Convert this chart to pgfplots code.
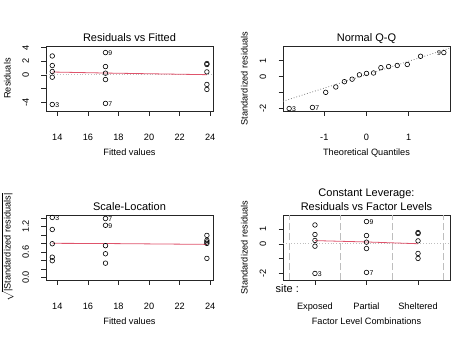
\documentclass[border=0pt]{standalone}
\usepackage{fontspec}
\setmainfont{Liberation Sans}
\usepackage{pgfplots}
\pgfplotsset{compat=1.18}
\definecolor{rred}{HTML}{DF536B}
\definecolor{rgray}{HTML}{BEBEBE}
\definecolor{rgrayd}{HTML}{7F7F7F}
\tikzset{
  idl/.style={font=\fontsize{6.9}{8}\selectfont, inner sep=0pt, anchor=west, xshift=2.8pt, yshift=-0.6pt},
  idr/.style={font=\fontsize{6.9}{8}\selectfont, inner sep=0pt, anchor=east, xshift=-2.8pt, yshift=-0.6pt},
}
\pgfplotsset{
  rplot/.style={
    scale only axis, width=167pt, height=65pt, clip=false,
    axis line style={black!85, line width=0.6pt},
    every tick/.style={black!85, line width=0.6pt},
    tick align=outside, major tick length=4.5pt, tick pos=left,
    title style={font=\fontsize{11}{13}\selectfont, at={(axis description cs:0.5,1.074)}, anchor=base, yshift=-6pt, inner sep=0pt},
    tick label style={font=\fontsize{9.2}{11}\selectfont, inner sep=0pt},
    xticklabel style={anchor=base}, xticklabel shift=24.5pt,
    yticklabel style={rotate=90, anchor=base}, yticklabel shift=12.5pt,
    label style={font=\fontsize{9.2}{11}\selectfont, inner sep=0pt},
    xlabel style={at={(axis description cs:0.5,-0.677)}, anchor=base},
    ylabel style={at={(axis description cs:-0.212,0.5)}, anchor=base},
  },
  pts/.style={only marks, mark=o, black, mark size=2.3pt, mark options={line width=0.6pt}},
  rsmooth/.style={rred, line width=0.8pt, no marks},
  zline/.style={rgray, dotted, line width=0.8pt, no marks},
  vline/.style={rgray, dash pattern=on 7pt off 3pt, line width=0.8pt, no marks},
}
\begin{document}
\begin{tikzpicture}
\path[use as bounding box] (0,0) rectangle (474pt,-338pt);

% Panel 1: Residuals vs Fitted
\begin{axis}[rplot, at={(46pt,-111pt)}, anchor=south west,
  xmin=13.26, xmax=24.18, ymin=-5.29, ymax=4.23,
  xtick={14,16,18,20,22,24}, xticklabels={14,16,18,20,22,24},
  ytick={-4,-2,0,2,4}, yticklabels={-4,,0,2,4},
  title={Residuals vs Fitted}, xlabel={Fitted values}, ylabel={Residuals}]
\addplot[zline] coordinates {(13.26,0) (24.18,0)};
\addplot[rsmooth] coordinates {(13.67,0.42) (17.15,0.27) (23.78,0.03)};
\addplot[pts] coordinates {
(13.67,2.77) (13.67,1.37) (13.67,0.50) (13.67,-0.34) (13.67,-4.33)
(17.15,3.27) (17.15,1.22) (17.15,0.25) (17.15,-0.68) (17.15,-4.18)
(23.78,1.66) (23.78,1.52) (23.78,0.44) (23.78,-1.40) (23.78,-2.13)};
\node[idl] at (axis cs:13.67,-4.33) {3};
\node[idl] at (axis cs:17.15,-4.18) {7};
\node[idl] at (axis cs:17.15,3.27) {9};
\end{axis}

% Panel 2: Normal Q-Q
\begin{axis}[rplot, at={(283pt,-111pt)}, anchor=south west,
  xmin=-1.98, xmax=1.98, ymin=-2.15, ymax=1.92,
  xtick={-1,0,1}, xticklabels={-1,0,1},
  ytick={-2,-1,0,1}, yticklabels={-2,,0,1},
  title={Normal Q-Q}, xlabel={Theoretical Quantiles}, ylabel={Standardized residuals}]
\addplot[rgrayd, dotted, line width=0.8pt, no marks] coordinates {(-1.98,-1.54) (1.98,1.79)};
\addplot[pts] coordinates {
(-1.834,-1.996) (-1.282,-1.927) (-0.967,-0.982) (-0.728,-0.645) (-0.524,-0.313)
(-0.341,-0.157) (-0.168,0.115) (0,0.203) (0.168,0.231) (0.341,0.562)
(0.524,0.632) (0.728,0.701) (0.967,0.765) (1.282,1.277) (1.834,1.508)};
\node[idl] at (axis cs:-1.834,-1.996) {3};
\node[idl] at (axis cs:-1.282,-1.927) {7};
\node[idr] at (axis cs:1.834,1.508) {9};
\end{axis}

% Panel 3: Scale-Location
\begin{axis}[rplot, at={(46pt,-280pt)}, anchor=south west,
  xmin=13.26, xmax=24.18, ymin=-0.057, ymax=1.47,
  xtick={14,16,18,20,22,24}, xticklabels={14,16,18,20,22,24},
  ytick={0,0.2,0.4,0.6,0.8,1.0,1.2,1.4}, yticklabels={0.0,,,0.6,,,1.2,},
  title={Scale-Location}, xlabel={Fitted values},
  ylabel={$\sqrt{\mbox{|Standardized residuals|}}$}]
\addplot[rsmooth] coordinates {(13.67,0.805) (17.15,0.80) (23.78,0.78)};
\addplot[pts] coordinates {
(13.67,1.130) (13.67,0.795) (13.67,0.480) (13.67,0.396) (13.67,1.413)
(17.15,1.228) (17.15,0.750) (17.15,0.339) (17.15,0.560) (17.15,1.388)
(23.78,0.875) (23.78,0.837) (23.78,0.451) (23.78,0.803) (23.78,0.991)};
\node[idl] at (axis cs:13.67,1.413) {3};
\node[idl] at (axis cs:17.15,1.388) {7};
\node[idl] at (axis cs:17.15,1.228) {9};
\end{axis}

% Panel 4: Constant Leverage
\begin{axis}[rplot, at={(283pt,-280pt)}, anchor=south west,
  xmin=0.38, xmax=3.62, ymin=-2.44, ymax=1.95,
  xtick={1,2,3}, xticklabels={Exposed,Partial,Sheltered},
  ytick={-2,-1,0,1}, yticklabels={-2,,0,1},
  title={Residuals vs Factor Levels}, xlabel={Factor Level Combinations},
  ylabel={Standardized residuals}]
\addplot[vline] coordinates {(0.5,-2.44) (0.5,1.95)};
\addplot[vline] coordinates {(1.5,-2.44) (1.5,1.95)};
\addplot[vline] coordinates {(2.5,-2.44) (2.5,1.95)};
\addplot[vline] coordinates {(3.5,-2.44) (3.5,1.95)};
\addplot[zline] coordinates {(0.38,0) (3.62,0)};
\addplot[rsmooth] coordinates {(1,0.22) (2,0.13) (3,0.01)};
\addplot[pts] coordinates {
(1,1.277) (1,0.632) (1,0.231) (1,-0.157) (1,-1.996)
(2,1.508) (2,0.562) (2,0.115) (2,-0.313) (2,-1.927)
(3,0.765) (3,0.701) (3,0.203) (3,-0.645) (3,-0.982)};
\node[idl] at (axis cs:1,-1.996) {3};
\node[idl] at (axis cs:2,-1.927) {7};
\node[idl] at (axis cs:2,1.508) {9};
\node[font=\fontsize{11}{13}\selectfont, anchor=base, inner sep=0pt] at (axis description cs:0.5,1.289) {Constant Leverage:};
\node[font=\fontsize{11}{13}\selectfont, anchor=east, inner sep=0pt] at (axis description cs:0.096,-0.138) {site :};
\end{axis}
\end{tikzpicture}
\end{document}
